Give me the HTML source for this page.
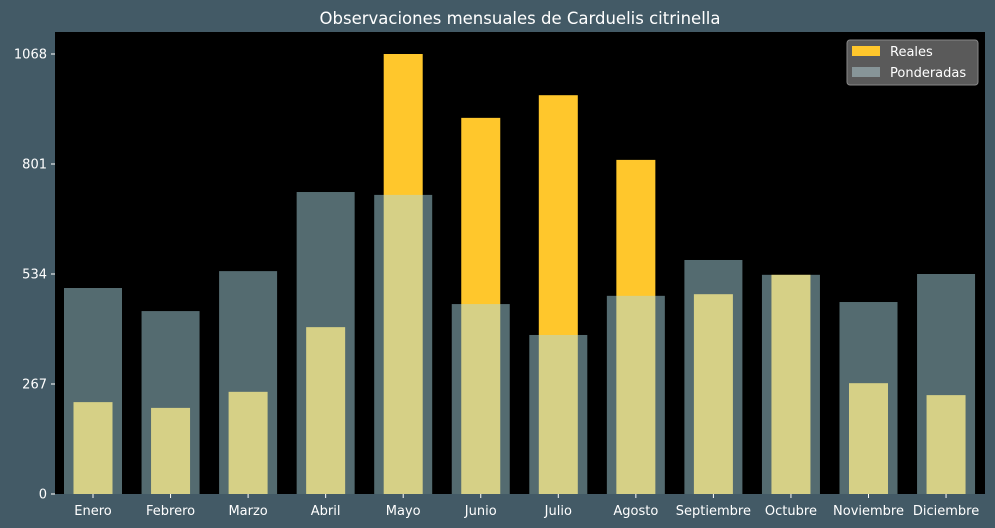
<!DOCTYPE html>
<html><head><meta charset="utf-8"><style>
body{margin:0;background:#435a66;}
svg{display:block;font-family:"DejaVu Sans","Liberation Sans",sans-serif;}
</style></head><body>
<svg id="chart" width="995" height="528">
<rect width="995" height="528" fill="#435a66"/>
<text x="520" y="24" fill="#fff" font-size="16.5" text-anchor="middle">Observaciones mensuales de Carduelis citrinella</text>
<rect x="55" y="32" width="930" height="462" fill="#000"/>
<g id="bars"></g><g id="axes"></g>
<g>
<rect x="847" y="40" width="131" height="45" rx="3" fill="#5a5a5a" stroke="#888"/>
<rect x="852" y="46" width="28" height="10" fill="#ffc72c"/>
<text x="890" y="56" fill="#fff" font-size="13">Reales</text>
<rect x="852" y="67" width="28" height="10" fill="#879598"/>
<text x="890" y="77" fill="#fff" font-size="13">Ponderadas</text>
</g>
</svg>
<script>
const categories=["Enero","Febrero","Marzo","Abril","Mayo","Junio","Julio","Agosto","Septiembre","Octubre","Noviembre","Diciembre"];
const reales=[223,209,248,405,1068,913,968,811,485,532,269,240];
const ponderadas=[500,444,541,733,726,461,386,481,568,532,466,534];
const yTicks=[0,267,534,801,1068];
const NS="http://www.w3.org/2000/svg";
const y0=494,ppu=440/1068;
const yS=v=>y0-v*ppu;
const xS=i=>93+i*77.55;
const bars=document.getElementById('bars'),axes=document.getElementById('axes');
function mk(t,a,p){const e=document.createElementNS(NS,t);for(const k in a)e.setAttribute(k,a[k]);p.appendChild(e);return e;}
reales.forEach((v,i)=>{const r=mk('rect',{x:xS(i)-19.5,y:yS(v),width:39,height:v*ppu,fill:'#ffc72c'},bars);

});
ponderadas.forEach((v,i)=>{const r=mk('rect',{x:xS(i)-29,y:yS(v),width:58,height:v*ppu,fill:'rgb(171,218,229)','fill-opacity':0.49},bars);

});
yTicks.forEach(t=>{mk('line',{x1:51,x2:55,y1:yS(t),y2:yS(t),stroke:'#fff'},axes);
const tx=mk('text',{x:47,y:yS(t)+4.5,fill:'#fff','font-size':13,'text-anchor':'end'},axes);tx.textContent=t;

});
categories.forEach((c,i)=>{mk('line',{x1:xS(i),x2:xS(i),y1:494,y2:498,stroke:'#fff'},axes);
const tx=mk('text',{x:xS(i),y:515,fill:'#fff','font-size':13,'text-anchor':'middle'},axes);tx.textContent=c;

});
</script>
</body></html>
